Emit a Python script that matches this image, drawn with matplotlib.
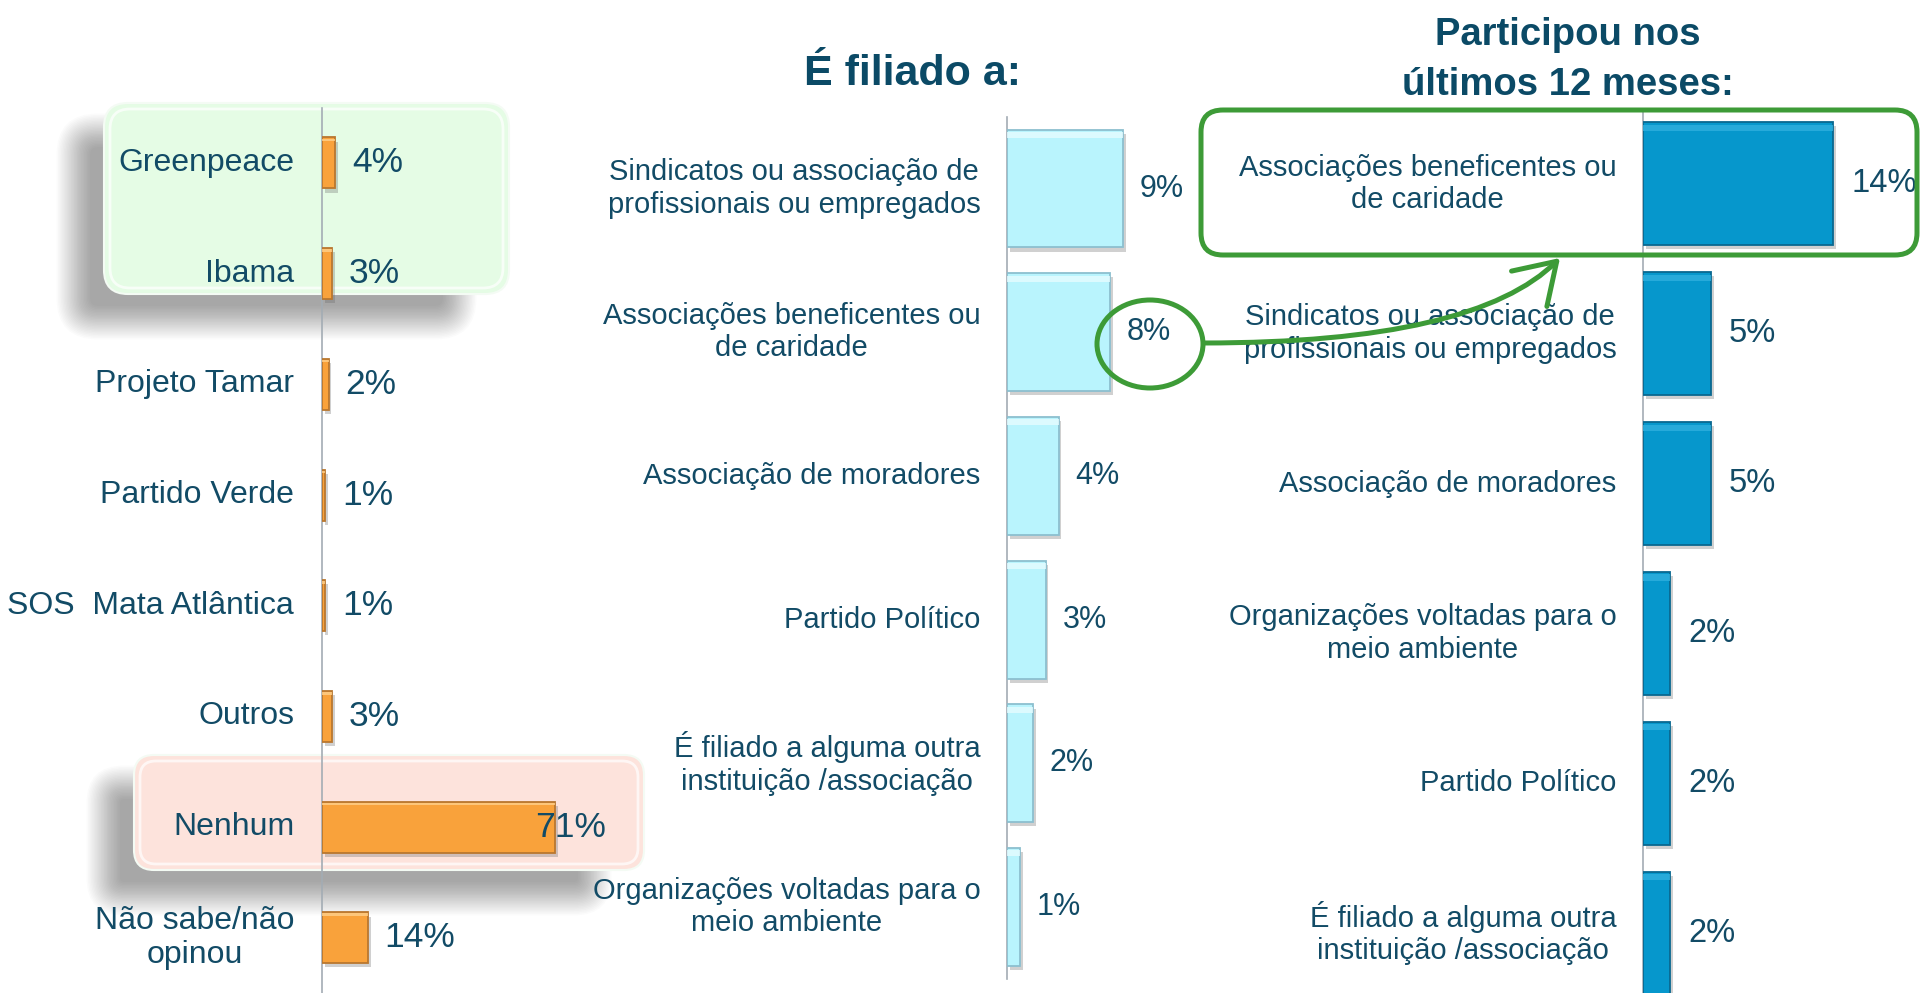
import matplotlib
matplotlib.use('Agg')
import numpy as np
import matplotlib.pyplot as plt
import matplotlib.patheffects as pe
from matplotlib.patches import FancyBboxPatch, Ellipse, FancyArrowPatch
from matplotlib.path import Path

# Data
left_labels = ['Greenpeace', 'Ibama', 'Projeto Tamar', 'Partido Verde',
               'SOS  Mata Atlântica', 'Outros', 'Nenhum', 'Não sabe/não\nopinou']
left_values = [4, 3, 2, 1, 1, 3, 71, 14]

mid_labels = ['Sindicatos ou associação de\nprofissionais ou empregados',
              'Associações beneficentes ou\nde caridade',
              'Associação de moradores',
              'Partido Político',
              'É filiado a alguma outra\ninstituição /associação',
              'Organizações voltadas para o\nmeio ambiente']
mid_values = [9, 8, 4, 3, 2, 1]

right_labels = ['Associações beneficentes ou\nde caridade',
                'Sindicatos ou associação de\nprofissionais ou empregados',
                'Associação de moradores',
                'Organizações voltadas para o\nmeio ambiente',
                'Partido Político',
                'É filiado a alguma outra\ninstituição /associação']
right_values = [14, 5, 5, 2, 2, 2]

W, H = 1920, 993
TEXT = '#124b66'
TITLE = '#0b4a66'
GREEN = '#3d9b37'

plt.rcParams['font.family'] = ['Liberation Sans', 'DejaVu Sans']

fig = plt.figure(figsize=(W / 100, H / 100), dpi=100)
fig.patch.set_facecolor('white')


def px_axes(x0, y_top, w, h, z):
    ax = fig.add_axes([x0 / W, 1 - (y_top + h) / H, w / W, h / H], zorder=z)
    ax.patch.set_alpha(0)
    return ax


def soft_shadow(ax, x, y, w, h, r, steps=24, spread=70):
    # stacked translucent boxes, shrinking inwards, give a blurred shadow
    for k in range(steps):
        g = spread * (0.5 - k / steps)
        p = FancyBboxPatch((x - g / 2, y - g / 2), w + g, h + g,
                           boxstyle=f'round,pad=0,rounding_size={max(r + g / 2, 2)}',
                           fc='black', ec='none', alpha=0.017)
        ax.add_patch(p)


def glass_box(ax, x, y, w, h, r, fc):
    soft_shadow(ax, x - 30, y + 28, w - 20, h, r)
    ax.add_patch(FancyBboxPatch((x, y), w, h, boxstyle=f'round,pad=0,rounding_size={r}',
                                fc=fc, ec='#f4fbf4', lw=1.5))
    ax.add_patch(FancyBboxPatch((x + 6, y + 6), w - 12, h - 12,
                                boxstyle=f'round,pad=0,rounding_size={r - 4}',
                                fc='none', ec='white', lw=2.0, alpha=0.7))


# background layer: highlight boxes on the left chart
bg = px_axes(0, 0, W, H, 0)
bg.set_xlim(0, W)
bg.set_ylim(H, 0)
bg.axis('off')
glass_box(bg, 104, 103, 405, 191, 24, '#e5fce5')
glass_box(bg, 134, 755, 510, 115, 20, '#fde3dc')


def panel(x_axis, y_top, spacing, px_per, width_px, labels, values,
          face, edge, light, bar_h, lab_fs, val_fs, lab_pad, val_pad):
    n = len(values)
    ax = px_axes(x_axis, y_top, width_px, n * spacing, 2)
    y = np.arange(n)
    ax.set_xlim(0, width_px / px_per)
    ax.set_ylim(n - 0.5, -0.5)

    bars = ax.barh(y, values, height=bar_h, color=face, edgecolor=edge,
                   linewidth=1.3, zorder=3)
    for b in bars:
        b.set_path_effects([pe.SimplePatchShadow(offset=(2, -3), shadow_rgbFace='#666666', alpha=0.3),
                            pe.Normal()])
    # soft bevel highlight near the top of each bar
    ax.barh(y - bar_h / 2 + bar_h * 0.045, values, height=bar_h * 0.05,
            color=light, linewidth=0, zorder=4, alpha=0.8)

    for yi, v in zip(y, values):
        off = val_pad if v < 50 else -14
        ax.annotate(f'{v}%', (v, yi), xytext=(off, 0), textcoords='offset points',
                    ha='left', va='center', fontsize=val_fs, color=TEXT,
                    annotation_clip=False, zorder=6)

    ax.set_yticks(y)
    ax.set_yticklabels(labels, fontsize=lab_fs, color=TEXT, va='center')
    for t in ax.get_yticklabels():
        t.set_multialignment('center')
    ax.tick_params(axis='y', length=0, pad=lab_pad)
    ax.set_xticks([])
    for s in ['top', 'right', 'bottom']:
        ax.spines[s].set_visible(False)
    ax.spines['left'].set_color('#a3acb4')
    ax.spines['left'].set_linewidth(1.2)
    return ax


panel(322, 107.6, 110.7, 3.28, 400, left_labels, left_values,
      '#f9a23b', '#b9772f', '#ffd08a', 0.46, 23, 25.5, 20, 12)
panel(1007, 116.7, 143.7, 12.9, 200, mid_labels, mid_values,
      '#b9f4fd', '#8cbfcf', '#e6fcff', 0.82, 21, 22, 19, 12)
panel(1643, 108.8, 149.9, 13.6, 277, right_labels, right_values,
      '#0697cc', '#0a6890', '#30b0de', 0.82, 21, 23.5, 19, 13)

# overlay: titles and green annotations
ov = px_axes(0, 0, W, H, 10)
ov.set_xlim(0, W)
ov.set_ylim(H, 0)
ov.axis('off')

ov.text(913, 85, 'É filiado a:', ha='center', va='baseline', fontsize=31,
        fontweight='bold', color=TITLE)
ov.text(1568, 45, 'Participou nos', ha='center', va='baseline', fontsize=27.5,
        fontweight='bold', color=TITLE)
ov.text(1568, 95, 'últimos 12 meses:', ha='center', va='baseline', fontsize=27.5,
        fontweight='bold', color=TITLE)

ov.add_patch(FancyBboxPatch((1201, 110), 716, 145, boxstyle='round,pad=0,rounding_size=22',
                            fc='none', ec=GREEN, lw=3.6))
ov.add_patch(Ellipse((1150, 344), 106, 88, fc='none', ec=GREEN, lw=3.6))
arrow_path = Path([(1204, 343), (1475, 343), (1560, 258)],
                  [Path.MOVETO, Path.CURVE3, Path.CURVE3])
ov.add_patch(FancyArrowPatch(path=arrow_path, arrowstyle='->,head_length=0.7,head_width=0.45',
                             mutation_scale=40, color=GREEN, lw=3.6))

plt.savefig('out.png', dpi=100)
plt.close()
